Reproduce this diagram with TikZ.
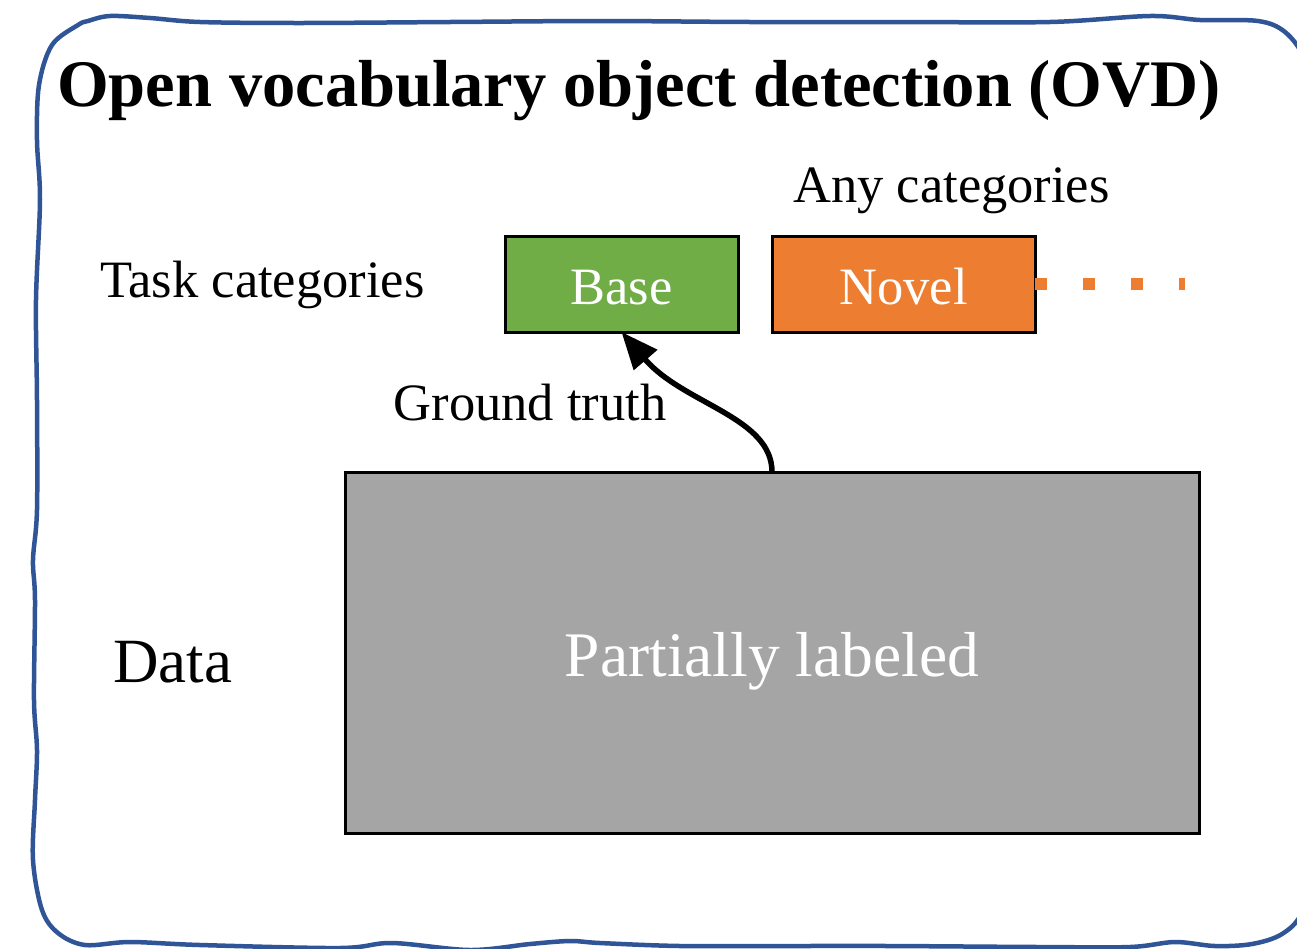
\documentclass[tikz,border=0pt]{standalone}
\usepackage{fontspec}
\setmainfont{Liberation Serif}
\usetikzlibrary{arrows.meta}

\definecolor{frameblue}{RGB}{47,85,151}
\definecolor{basegreen}{RGB}{112,173,71}
\definecolor{novelorange}{RGB}{237,125,49}
\definecolor{datagray}{RGB}{165,165,165}

\tikzset{
  frame/.style={draw=frameblue, line width=4.5pt, line join=round},
  txt/.style={inner sep=0pt, font=\fontsize{52.5}{60}\selectfont},
  catbox/.style={draw=black, line width=3pt, inner sep=0pt, outer sep=0pt,
    minimum height=96pt, text=white, text height=40pt, text depth=0pt,
    font=\fontsize{52.5}{60}\selectfont},
  databox/.style={draw=black, line width=3pt, fill=datagray, inner sep=0pt,
    outer sep=0pt, minimum width=854pt, minimum height=361pt, text=white,
    text height=47pt, text depth=0pt, font=\fontsize{63.5}{70}\selectfont},
  dotline/.style={draw=novelorange, line width=12pt, dash pattern=on 12pt off 36pt},
  arr/.style={draw=black, line width=5.5pt, -{Triangle[length=37pt,width=30pt]}}
}

\begin{document}
\begin{tikzpicture}[x=1pt, y=-1pt]
\useasboundingbox (0,0) rectangle (1297,948);

% hand-drawn outer frame
\begin{scope}
  \clip (0,0) rectangle (1297,948);
  \draw[frame] plot[smooth cycle, tension=0.55] coordinates {
    (37,140) (39,85) (52,45) (78,25) (88,21) (110,16) (150,18) (200,22)
    (300,23) (450,22) (600,21) (750,22) (900,22) (1050,22) (1150,16)
    (1200,20) (1258,21) (1285,32) (1304,58) (1312,100) (1312,300)
    (1312,500) (1312,700) (1312,860) (1302,912) (1282,934) (1252,944)
    (1215,946) (1175,942) (1130,947) (1040,947) (890,946) (790,946)
    (680,946) (600,943) (570,941) (530,944) (470,950) (392,943)
    (340,948) (200,945) (130,942) (85,945) (58,933) (42,910) (33,860)
    (35,800) (37,750) (34,700) (35,600) (33,560) (37,510) (37,400)
    (36,300) (40,200)
  };
\end{scope}

% title
\node[inner sep=0pt, anchor=base west, font=\bfseries\fontsize{66.5}{70}\selectfont]
  (title) at (57,106) {Open vocabulary object detection (OVD)};

% row labels
\node[txt, anchor=base west] (task) at (100,297) {Task categories};
\node[txt, anchor=base, font=\fontsize{63}{70}\selectfont] (datalabel) at (172.5,682) {Data};
\node[txt, anchor=base] (any) at (951.5,202) {Any categories};

% category boxes
\node[catbox, fill=basegreen, minimum width=233pt] (base) at (621.5,284) {Base};
\node[catbox, fill=novelorange, minimum width=263pt] (novel) at (903.5,284) {Novel};
\coordinate (dotend) at (1185,284);
\draw[dotline] (novel.east) -- (dotend);

% data box
\node[databox] (data) at (772,652.5) {Partially labeled};

% ground-truth arrow
\draw[arr] (data.north) .. controls +(0,-55) and +(62,72) .. (base.south);
\node[txt, anchor=base] (gt) at (530,420) {Ground truth};

\end{tikzpicture}
\end{document}
